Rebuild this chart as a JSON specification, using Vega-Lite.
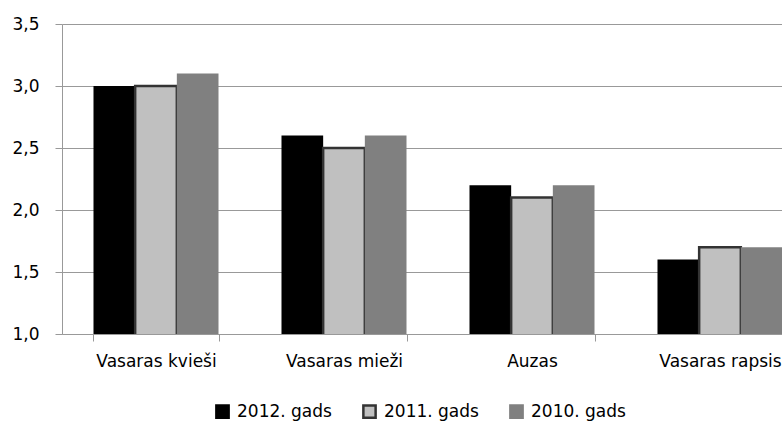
{
  "$schema": "https://vega.github.io/schema/vega-lite/v6.json",
  "width": 720,
  "height": 310,
  "autosize": {"type": "none"},
  "padding": {"left": 62, "top": 24, "right": 0, "bottom": 87},
  "background": "white",
  "data": {
    "values": [
      {"crop": "Vasaras kvieši", "year": "2012. gads", "value": 3.0},
      {"crop": "Vasaras kvieši", "year": "2011. gads", "value": 3.0},
      {"crop": "Vasaras kvieši", "year": "2010. gads", "value": 3.1},
      {"crop": "Vasaras mieži", "year": "2012. gads", "value": 2.6},
      {"crop": "Vasaras mieži", "year": "2011. gads", "value": 2.5},
      {"crop": "Vasaras mieži", "year": "2010. gads", "value": 2.6},
      {"crop": "Auzas", "year": "2012. gads", "value": 2.2},
      {"crop": "Auzas", "year": "2011. gads", "value": 2.1},
      {"crop": "Auzas", "year": "2010. gads", "value": 2.2},
      {"crop": "Vasaras rapsis", "year": "2012. gads", "value": 1.6},
      {"crop": "Vasaras rapsis", "year": "2011. gads", "value": 1.7},
      {"crop": "Vasaras rapsis", "year": "2010. gads", "value": 1.7}
    ]
  },
  "mark": {"type": "bar", "clip": true},
  "encoding": {
    "x": {
      "field": "crop",
      "type": "nominal",
      "sort": ["Vasaras kvieši", "Vasaras mieži", "Auzas", "Vasaras rapsis"],
      "scale": {"range": [0, 752], "paddingInner": 0.335, "paddingOuter": 0.1675},
      "axis": {
        "title": null,
        "labelAngle": 0,
        "labelFont": "DejaVu Sans",
        "labelFontSize": 17,
        "labelColor": "#000000",
        "labelPadding": 12,
        "labelOverlap": false,
        "domainColor": "#999999",
        "tickColor": "#999999",
        "tickSize": 7,
        "tickBand": "extent",
        "grid": false
      }
    },
    "xOffset": {
      "field": "year",
      "type": "nominal",
      "scale": {"domain": ["2012. gads", "2011. gads", "2010. gads"], "paddingInner": 0, "paddingOuter": 0}
    },
    "y": {
      "field": "value",
      "type": "quantitative",
      "scale": {"domain": [1, 3.5], "zero": false, "nice": false},
      "axis": {
        "title": null,
        "values": [1, 1.5, 2, 2.5, 3, 3.5],
        "labelExpr": "replace(format(datum.value, '.1f'), '.', ',')",
        "labelFont": "DejaVu Sans",
        "labelFontSize": 17,
        "labelColor": "#000000",
        "labelPadding": 16,
        "grid": true,
        "gridColor": "#999999",
        "domainColor": "#999999",
        "tickColor": "#999999",
        "tickSize": 7
      }
    },
    "fill": {
      "field": "year",
      "type": "nominal",
      "scale": {"domain": ["2012. gads", "2011. gads", "2010. gads"], "range": ["#000000", "#c0c0c0", "#808080"]},
      "legend": {
        "title": null,
        "orient": "none",
        "direction": "horizontal",
        "legendX": 152,
        "legendY": 379,
        "symbolType": "square",
        "symbolSize": 150,
        "symbolStrokeWidth": 2.5,
        "labelFont": "DejaVu Sans",
        "labelFontSize": 17,
        "labelColor": "#000000",
        "labelOffset": 6,
        "columnPadding": 26
      }
    },
    "stroke": {
      "field": "year",
      "type": "nominal",
      "scale": {"domain": ["2012. gads", "2011. gads", "2010. gads"], "range": ["#000000", "#333333", "#808080"]},
      "legend": {
        "title": null,
        "orient": "none",
        "direction": "horizontal",
        "legendX": 152,
        "legendY": 379,
        "symbolType": "square",
        "symbolSize": 150,
        "symbolStrokeWidth": 2.5,
        "labelFont": "DejaVu Sans",
        "labelFontSize": 17,
        "labelColor": "#000000",
        "labelOffset": 6,
        "columnPadding": 26
      }
    },
    "strokeWidth": {
      "condition": {"test": "datum.year === '2011. gads'", "value": 2.5},
      "value": 0
    }
  },
  "config": {"view": {"stroke": null}}
}
